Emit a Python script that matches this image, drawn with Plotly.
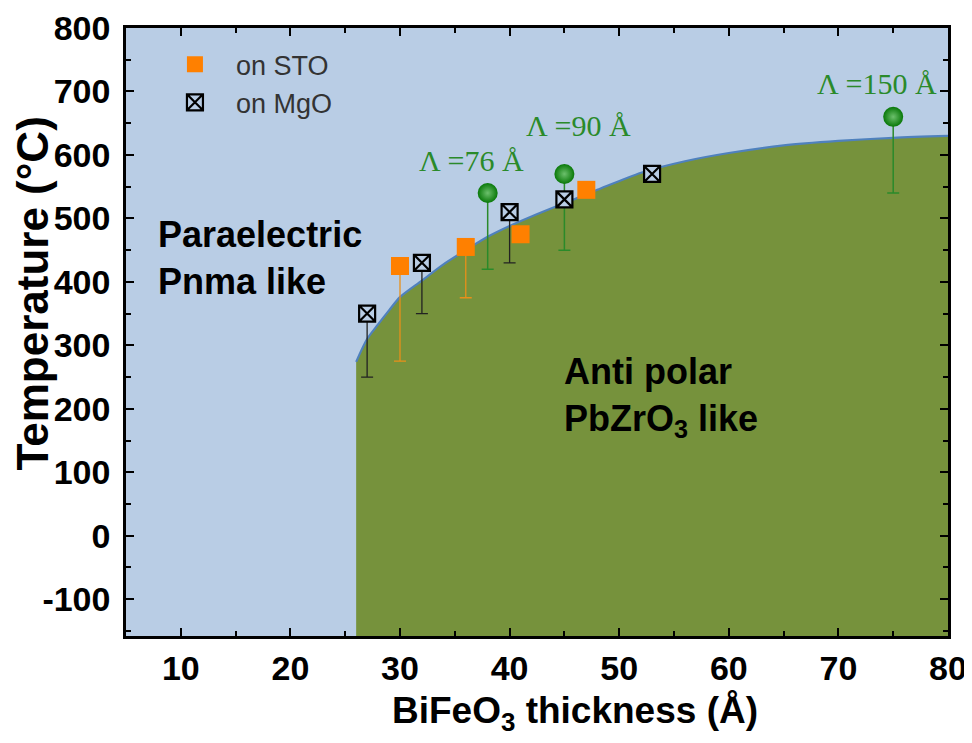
import plotly.graph_objects as go

# ---- data ----
boundary_x = [26, 27, 28, 29, 30, 32, 34, 36, 38, 40, 42, 45, 48, 52, 56, 60, 65, 70, 75, 80]
boundary_T = [274, 310, 333, 355, 376, 402, 428, 450, 471, 488, 503, 524, 545, 572, 590, 603, 615, 622, 627, 630]

sto_x = [30, 36, 41, 47]
sto_T = [425, 455, 475, 545]
sto_err = [150, 80, 0, 0]

mgo_x = [27, 32, 40, 45, 53]
mgo_T = [350, 430, 510, 530, 570]
mgo_err = [100, 80, 80, 0, 0]

sl_x = [38, 45, 75]
sl_T = [540, 570, 660]
sl_err = [120, 120, 120]
sl_labels = ["Λ =76 Å", "Λ =90 Å", "Λ =150 Å"]
sl_label_x = [36.5, 46.3, 73.5]
sl_label_T = [592, 647, 712]

x_tickvals = [10, 20, 30, 40, 50, 60, 70, 80]
x_ticktext = ["10", "20", "30", "40", "50", "60", "70", "80"]
y_tickvals = [-100, 0, 100, 200, 300, 400, 500, 600, 700, 800]
y_ticktext = ["-100", "0", "100", "200", "300", "400", "500", "600", "700", "800"]

x_range = [5, 80]
y_range = [-158, 800]

BG = "#B9CDE5"
GREEN_FILL = "#76923C"
LINE_BLUE = "#4F81BD"
ORANGE = "#FF8000"
TXT_GREEN = "#2A8A2A"
SANS = "Liberation Sans, Arial, sans-serif"
SERIF = "Liberation Serif, Times New Roman, serif"

fig = go.Figure()

# antipolar region (fill under the boundary)
fig.add_trace(go.Scatter(
    x=boundary_x + [boundary_x[-1], boundary_x[0]],
    y=boundary_T + [y_range[0], y_range[0]],
    fill="toself", fillcolor=GREEN_FILL, mode="none",
    hoverinfo="skip", showlegend=False))

fig.add_trace(go.Scatter(
    x=boundary_x, y=boundary_T, mode="lines",
    line=dict(color=LINE_BLUE, width=2.2, shape="spline", smoothing=0.8),
    showlegend=False, hoverinfo="skip"))

# superlattice points
fig.add_trace(go.Scatter(
    x=sl_x, y=sl_T, mode="markers",
    marker=dict(size=20, color="#087808", symbol="circle",
                line=dict(width=0),
                gradient=dict(type="radial", color="#6CC06C")),
    error_y=dict(type="data", symmetric=False, array=[0] * len(sl_x),
                 arrayminus=sl_err, color=TXT_GREEN, thickness=1.5, width=6),
    showlegend=False))

# STO
fig.add_trace(go.Scatter(
    x=sto_x, y=sto_T, mode="markers", name="on STO",
    marker=dict(size=18, color=ORANGE, symbol="square", line=dict(width=0)),
    error_y=dict(type="data", symmetric=False, array=[0] * len(sto_x),
                 arrayminus=sto_err, color="#E8901A", thickness=1.3, width=6)))

# MgO
fig.add_trace(go.Scatter(
    x=mgo_x, y=mgo_T, mode="markers", name="on MgO",
    marker=dict(size=16, color=BG, symbol="square-x",
                line=dict(width=2.2, color="black")),
    error_y=dict(type="data", symmetric=False, array=[0] * len(mgo_x),
                 arrayminus=mgo_err, color="#222222", thickness=1.3, width=6)))

annotations = []
for lx, ly, lt in zip(sl_label_x, sl_label_T, sl_labels):
    annotations.append(dict(x=lx, y=ly, xref="x", yref="y", text=lt,
                            showarrow=False,
                            font=dict(family=SERIF, size=30, color=TXT_GREEN)))

annotations.append(dict(x=0.037, y=0.621, xref="paper", yref="paper",
                        text="Paraelectric<br>Pnma like", showarrow=False,
                        xanchor="left", yanchor="middle", align="left",
                        font=dict(family=SANS, size=36, color="black", weight="bold")))
annotations.append(dict(x=0.531, y=0.393, xref="paper", yref="paper",
                        text="Anti polar<br>PbZrO<sub>3</sub> like", showarrow=False,
                        xanchor="left", yanchor="middle", align="left",
                        font=dict(family=SANS, size=36, color="black", weight="bold")))
# axis titles
annotations.append(dict(x=0.546, y=-0.127, xref="paper", yref="paper",
                        text="BiFeO<sub>3</sub> thickness (Å)", showarrow=False,
                        xanchor="center", yanchor="middle",
                        font=dict(family=SANS, size=37, color="black", weight="bold")))
annotations.append(dict(x=-0.114, y=0.564, xref="paper", yref="paper",
                        text="Temperature (°C)", showarrow=False, textangle=-90,
                        xanchor="center", yanchor="middle",
                        font=dict(family=SANS, size=44, color="black", weight="bold")))

axis_common = dict(
    showline=True, linecolor="black", linewidth=2.5, mirror="allticks",
    ticks="inside", ticklen=8, tickwidth=2, tickcolor="black",
    showgrid=False, zeroline=False, automargin=False,
    tickfont=dict(family=SANS, size=34, color="black", weight="bold"),
)

# the page body adds an 8px offset; the figure is sized so the plot box
# lands at the reference position inside the 972x743 window
fig.update_layout(
    width=964, height=735,
    margin=dict(l=118, r=24, t=20, b=107),
    paper_bgcolor="white", plot_bgcolor=BG,
    xaxis=dict(range=x_range, tickmode="array", tickvals=x_tickvals, ticktext=x_ticktext,
               minor=dict(ticks="inside", ticklen=5, tickwidth=2, dtick=5, tick0=5,
                          tickcolor="black"),
               **axis_common),
    yaxis=dict(range=y_range, tickmode="array", tickvals=y_tickvals, ticktext=y_ticktext,
               ticklabelstandoff=6,
               minor=dict(ticks="inside", ticklen=5, tickwidth=2, dtick=50, tick0=-150,
                          tickcolor="black"),
               **axis_common),
    legend=dict(x=0.034, y=0.98, xanchor="left", yanchor="top",
                bgcolor="rgba(0,0,0,0)", borderwidth=0,
                font=dict(family=SANS, size=27, color="#333333"),
                itemsizing="trace", itemwidth=72, tracegroupgap=0),
    annotations=annotations,
)

fig.write_html("out.html")
